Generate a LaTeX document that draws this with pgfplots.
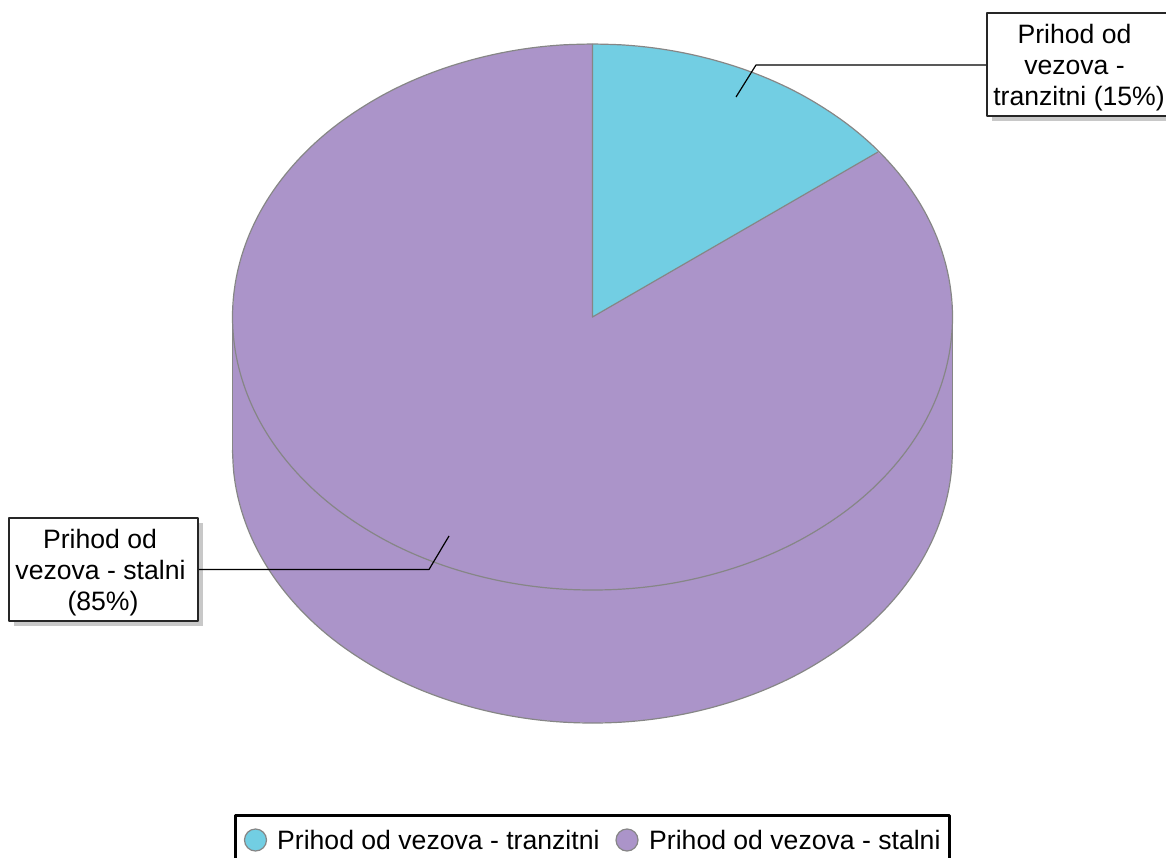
\documentclass[border=0pt]{standalone}
\usepackage{fontspec}
\setmainfont{Liberation Sans}
\usepackage{pgfplots}
\pgfplotsset{compat=1.18}
\definecolor{teal3d}{HTML}{72CEE3}
\definecolor{purple3d}{HTML}{AB94C9}
\definecolor{pieedge}{HTML}{868686}
\definecolor{shadowgray}{HTML}{C8C8C8}
\begin{document}
\begin{tikzpicture}
\begin{axis}[
    name=ax,
    at={(0,0)}, anchor=south west,
    scale only axis,
    width=1166pt, height=858pt,
    xmin=0, xmax=1166, ymin=0, ymax=858,
    y dir=reverse,
    hide axis,
    clip=true,
    line join=round,
]
% side of the pie
\addplot[fill=purple3d, draw=none] coordinates {
(232.5,317) (232.5,450) (233.9,473.8) (238,497.4) (244.8,520.7) (254.2,543.4) (266.2,565.4) (280.7,586.5) (297.6,606.6) (316.7,625.5) (337.9,643) (361.1,659) (386,673.6) (412.5,686.4) (440.4,697.4) (469.4,706.5) (499.3,713.7) (530,718.9) (561.1,722) (592.5,723) (623.9,722) (655,718.9) (685.7,713.7) (715.6,706.5) (744.6,697.4) (772.5,686.4) (799,673.6) (823.9,659) (847.1,643) (868.3,625.5) (887.4,606.6) (904.3,586.5) (918.8,565.4) (930.8,543.4) (940.2,520.7) (947,497.4) (951.1,473.8) (952.5,450) (952.5,317)
} -- cycle;
% top face, large slice
\addplot[fill=purple3d, draw=none] coordinates {
(592.5,317) (878,152) (887.4,160.4) (904.3,180.5) (918.8,201.6) (930.8,223.6) (940.2,246.3) (947,269.6) (951.1,293.2) (952.5,317)
(951.1,340.8) (947,364.4) (940.2,387.7) (930.8,410.4) (918.8,432.4) (904.3,453.5) (887.4,473.6) (868.3,492.5) (847.1,510) (823.9,526) (799,540.6) (772.5,553.4) (744.6,564.4) (715.6,573.5) (685.7,580.7) (655,585.9) (623.9,589) (592.5,590)
(561.1,589) (530,585.9) (499.3,580.7) (469.4,573.5) (440.4,564.4) (412.5,553.4) (386,540.6) (361.1,526) (337.9,510) (316.7,492.5) (297.6,473.6) (280.7,453.5) (266.2,432.4) (254.2,410.4) (244.8,387.7) (238,364.4) (233.9,340.8) (232.5,317)
(233.9,293.2) (238,269.6) (244.8,246.3) (254.2,223.6) (266.2,201.6) (280.7,180.5) (297.6,160.4) (316.7,141.5) (337.9,124) (361.1,108) (386,93.4) (412.5,80.6) (440.4,69.6) (469.4,60.5) (499.3,53.3) (530,48.1) (561.1,45) (592.5,44)
} -- cycle;
% top face, small slice
\addplot[fill=teal3d, draw=none] coordinates {
(592.5,317) (592.5,44) (623.9,45) (655,48.1) (685.7,53.3) (715.6,60.5) (744.6,69.6) (772.5,80.6) (799,93.4) (823.9,108) (847.1,124) (868.3,141.5) (878,152)
} -- cycle;
% outlines, smoothed
\addplot[smooth, tension=0.6, draw=pieedge, line width=1.2pt] coordinates {
(232.5,450) (233.9,473.8) (238,497.4) (244.8,520.7) (254.2,543.4) (266.2,565.4) (280.7,586.5) (297.6,606.6) (316.7,625.5) (337.9,643) (361.1,659) (386,673.6) (412.5,686.4) (440.4,697.4) (469.4,706.5) (499.3,713.7) (530,718.9) (561.1,722) (592.5,723) (623.9,722) (655,718.9) (685.7,713.7) (715.6,706.5) (744.6,697.4) (772.5,686.4) (799,673.6) (823.9,659) (847.1,643) (868.3,625.5) (887.4,606.6) (904.3,586.5) (918.8,565.4) (930.8,543.4) (940.2,520.7) (947,497.4) (951.1,473.8) (952.5,450)
};
\addplot[smooth, tension=0.6, draw=pieedge, line width=1.2pt] coordinates {
(592.5,44) (623.9,45) (655,48.1) (685.7,53.3) (715.6,60.5) (744.6,69.6) (772.5,80.6) (799,93.4) (823.9,108) (847.1,124) (868.3,141.5) (887.4,160.4) (904.3,180.5) (918.8,201.6) (930.8,223.6) (940.2,246.3) (947,269.6) (951.1,293.2) (952.5,317)
(951.1,340.8) (947,364.4) (940.2,387.7) (930.8,410.4) (918.8,432.4) (904.3,453.5) (887.4,473.6) (868.3,492.5) (847.1,510) (823.9,526) (799,540.6) (772.5,553.4) (744.6,564.4) (715.6,573.5) (685.7,580.7) (655,585.9) (623.9,589) (592.5,590)
(561.1,589) (530,585.9) (499.3,580.7) (469.4,573.5) (440.4,564.4) (412.5,553.4) (386,540.6) (361.1,526) (337.9,510) (316.7,492.5) (297.6,473.6) (280.7,453.5) (266.2,432.4) (254.2,410.4) (244.8,387.7) (238,364.4) (233.9,340.8) (232.5,317)
(233.9,293.2) (238,269.6) (244.8,246.3) (254.2,223.6) (266.2,201.6) (280.7,180.5) (297.6,160.4) (316.7,141.5) (337.9,124) (361.1,108) (386,93.4) (412.5,80.6) (440.4,69.6) (469.4,60.5) (499.3,53.3) (530,48.1) (561.1,45) (592.5,44)
};
\addplot[draw=pieedge, line width=1.2pt] coordinates {(592.5,44) (592.5,317) (878,152)};
\addplot[draw=pieedge, line width=1.2pt] coordinates {(232.5,317) (232.5,450)};
\addplot[draw=pieedge, line width=1.2pt] coordinates {(952.5,317) (952.5,450)};
% callout shadows
\addplot[fill=shadowgray, draw=none] coordinates {(992,18) (1170,18) (1170,121) (992,121)} -- cycle;
\addplot[fill=shadowgray, draw=none] coordinates {(14,523) (203,523) (203,626) (14,626)} -- cycle;
% leader lines
\addplot[black, line width=1.2pt] coordinates {(736,97) (756,65) (987,65)};
\addplot[black, line width=1.2pt] coordinates {(449,536) (429,569.5) (198,569.5)};
% callout boxes
\addplot[fill=white, draw=black!85, line width=1.5pt] coordinates {(987,13) (1170,13) (1170,116) (987,116)} -- cycle;
\addplot[fill=white, draw=black!85, line width=1.5pt] coordinates {(9,518) (198,518) (198,621) (9,621)} -- cycle;
% legend frame, runs off the bottom edge
\addplot[fill=white, draw=black, line width=3pt] coordinates {(235,870) (235,815.5) (949,815.5) (949,870)};
\addplot[only marks, mark=*, mark size=11pt, mark options={fill=teal3d, draw=pieedge, line width=1.2pt}] coordinates {(255.5,840)};
\addplot[only marks, mark=*, mark size=11pt, mark options={fill=purple3d, draw=pieedge, line width=1.2pt}] coordinates {(627,840)};

\begin{scope}[every node/.style={font=\fontsize{26.6}{31}\selectfont, inner sep=0pt, text=black}]
\node[anchor=base] at (axis cs:1074.5,43.6) {Prihod od};
\node[anchor=base] at (axis cs:1074.5,74.6) {vezova -};
\node[anchor=base] at (axis cs:1079,105.6) {tranzitni (15\%)};
\node[anchor=base] at (axis cs:100,548.6) {Prihod od};
\node[anchor=base] at (axis cs:100.5,579.6) {vezova - stalni};
\node[anchor=base] at (axis cs:103,610.6) {(85\%)};
\node[anchor=base west] at (axis cs:277,849.6) {Prihod od vezova - tranzitni};
\node[anchor=base west] at (axis cs:649,849.6) {Prihod od vezova - stalni};
\end{scope}
\end{axis}
\pgfresetboundingbox
\path[use as bounding box] (0,0) rectangle (1166pt,858pt);
\end{tikzpicture}
\end{document}
